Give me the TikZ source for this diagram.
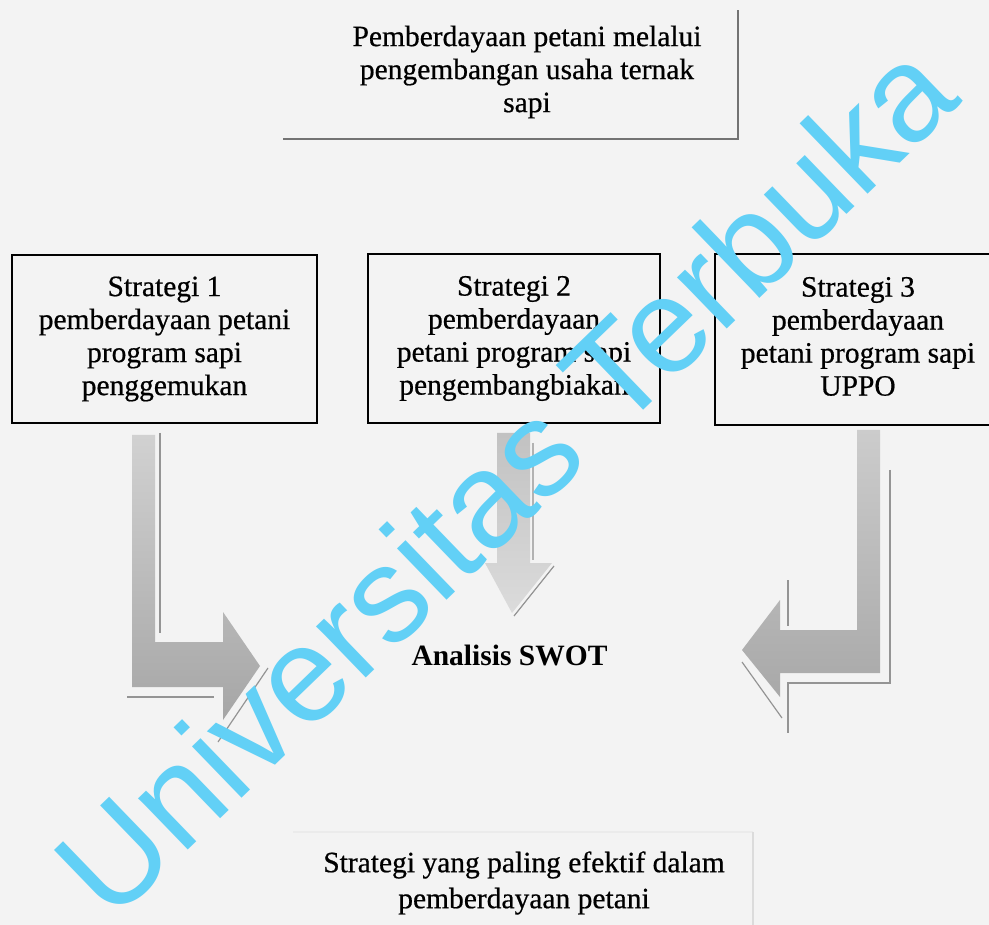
\documentclass[tikz,border=0pt]{standalone}
\usepackage{fontspec}
\setmainfont{Liberation Serif}[UprightFeatures={FakeBold=0.6}]
\newfontfamily\wmfont{Liberation Sans}
\definecolor{bgc}{RGB}{243,243,243}
\definecolor{wmc}{RGB}{98,208,246}
\begin{document}
\begin{tikzpicture}[x=1pt,y=-1pt,
  txt/.style={font=\fontsize{29.5}{33}\selectfont, align=center, inner sep=0pt},
  stratbox/.style={txt, draw=black, line width=1.8pt},
  topedge/.style={draw=black!55, line width=1.3pt},
  faintedge/.style={draw=black!14, line width=2.5pt},
  edgeline/.style={draw=black!42, line width=1.2pt},
  wmtext/.style={font=\wmfont\fontsize{135}{140}\selectfont, text=wmc, rotate=44, inner sep=0pt}
]
\useasboundingbox (0,0) rectangle (989,925);
\fill[bgc] (0,0) rectangle (989,925);

% top box
\node[txt] (top) at (527,72) {Pemberdayaan petani melalui\\pengembangan usaha ternak\\sapi};
\draw[topedge] (283,139) -- (738,139) -- (738,10);

% strategy boxes
\node[stratbox, minimum width=305pt, minimum height=168pt] (s1) at (164.5,339) {Strategi 1\\pemberdayaan petani\\program sapi\\penggemukan};
\node[stratbox, minimum width=292pt, minimum height=169pt] (s2) at (514,338.5) {Strategi 2\\pemberdayaan\\petani program sapi\\pengembangbiakan};
\node[stratbox, minimum width=286pt, minimum height=171pt] (s3) at (858,339.5) {Strategi 3\\pemberdayaan\\petani program sapi\\UPPO\vphantom{g}};

% SWOT
\node[font=\bfseries\fontsize{29.5}{33}\selectfont, anchor=base, inner sep=0pt] (swot) at (509.5,665) {Analisis SWOT};

% arrow 1
\shade[top color=black!18, bottom color=black!35] (132,435) -- (155,435) -- (155,642) -- (223,642) -- (223,612) -- (260,666) -- (223,720) -- (223,687) -- (132,687) -- cycle;
\draw[edgeline] (160,433) -- (160,633);
\draw[edgeline] (127,697) -- (214,697);
\draw[edgeline] (268,668) -- (218,742);

% arrow 2
\shade[top color=black!24, bottom color=black!14] (497,433) -- (530,433) -- (530,563) -- (552,563) -- (512,613) -- (485,563) -- (497,563) -- cycle;
\draw[edgeline, draw=black!30] (533,443) -- (533,560);
\draw[edgeline] (554,566) -- (514,616);

% arrow 3
\shade[top color=black!20, bottom color=black!34] (857,430) -- (880,430) -- (880,673) -- (780,673) -- (780,697) -- (742,650) -- (780,600) -- (780,630) -- (857,630) -- cycle;
\draw[edgeline] (890,470) -- (890,683) -- (788,683) -- (788,733);
\draw[edgeline] (788,580) -- (788,626);
\draw[edgeline] (742,662) -- (782,718);

% bottom box
\draw[faintedge, draw=black!8] (293,832) -- (753,832);
\draw[faintedge] (753,832) -- (753,930);
\node[txt, font=\fontsize{29.5}{36}\selectfont] (res) at (524,883) {Strategi yang paling efektif dalam\\pemberdayaan petani};

% watermark
\node[wmtext] (wm) at (504,478) {Universitas Terbuka};
\end{tikzpicture}
\end{document}
